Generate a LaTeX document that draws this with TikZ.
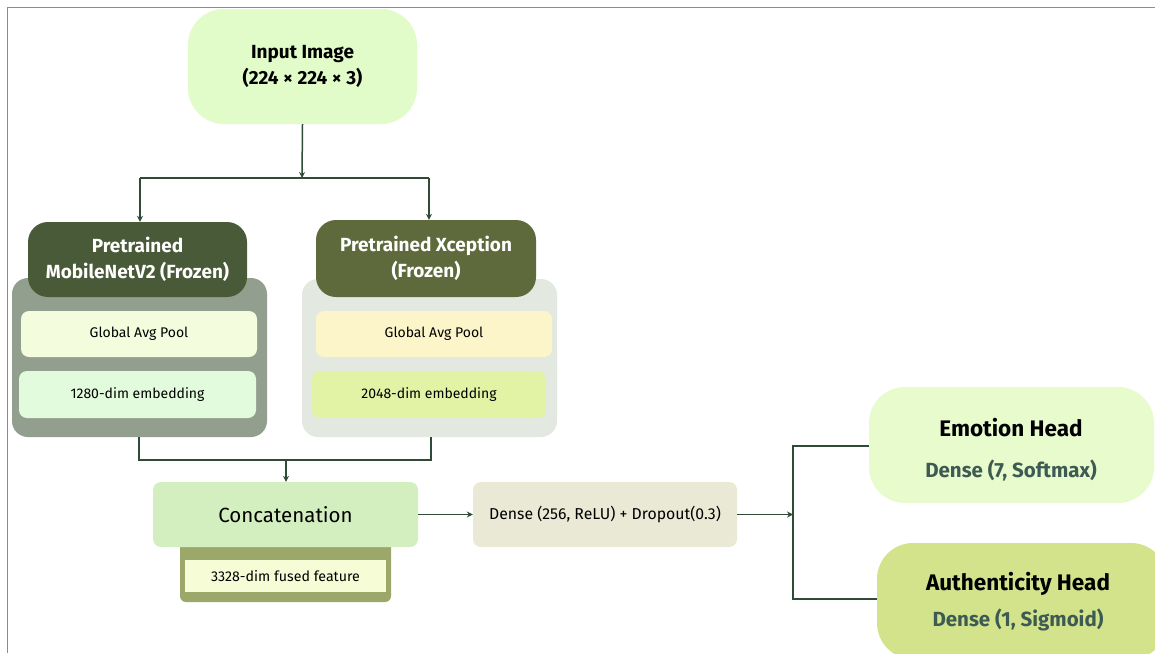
\documentclass[tikz,border=0pt]{standalone}
\usepackage{fontspec}
\setmainfont{Fira Sans}
\usetikzlibrary{arrows.meta}
\definecolor{inputfill}{HTML}{E1FBC9}
\definecolor{mobhead}{HTML}{485A37}
\definecolor{mobgroup}{HTML}{939F8E}
\definecolor{xcehead}{HTML}{5F6A3C}
\definecolor{xcegroup}{HTML}{E3E8E1}
\definecolor{poolA}{HTML}{F4FCDE}
\definecolor{embA}{HTML}{E2FBDC}
\definecolor{poolB}{HTML}{FDF5CA}
\definecolor{embB}{HTML}{E2F3A6}
\definecolor{concatfill}{HTML}{D3EFC0}
\definecolor{fusedbase}{HTML}{9BA86A}
\definecolor{fusedfill}{HTML}{F6FCD6}
\definecolor{densefill}{HTML}{EAE9D6}
\definecolor{emofill}{HTML}{E8FBCD}
\definecolor{authfill}{HTML}{D3E38B}
\definecolor{wire}{HTML}{2F4A36}
\definecolor{subtxt}{HTML}{3E5B53}
\definecolor{framegray}{HTML}{8C8C8C}
\tikzset{
  box/.style={draw=none, inner sep=0pt, align=center},
  wireline/.style={draw=wire, line width=1.5pt},
  arrowline/.style={wireline, -{Stealth[length=6pt,width=6pt]}},
  bigbold/.style={font=\fontsize{19}{26}\selectfont\bfseries},
  headbold/.style={font=\fontsize{22.5}{26}\selectfont\bfseries},
  headsub/.style={font=\fontsize{20.5}{24}\selectfont\bfseries, text=subtxt},
  midreg/.style={font=\fontsize{20.5}{24}\selectfont},
  small/.style={font=\fontsize{14}{18}\selectfont},
  densetext/.style={font=\fontsize{15.8}{18}\selectfont},
  tiny/.style={font=\fontsize{14.2}{16}\selectfont},
}
\begin{document}
\begin{tikzpicture}[x=1pt,y=-1pt]
\clip (0,0) rectangle (1155,653);
\fill[white] (0,0) rectangle (1155,653);
% outer frame lines
\draw[framegray, line width=1.5pt] (7.5,653) -- (7.5,7.5) -- (1155,7.5);

% input
\node[box, fill=inputfill, rounded corners=36pt, minimum width=229pt, minimum height=115pt, bigbold]
  (input) at (302.5,66.5) {Input Image\\(224 × 224 × 3)};

% MobileNetV2 branch
\node[box, fill=mobgroup, rounded corners=16pt, minimum width=255pt, minimum height=159pt]
  (mobgrp) at (139.5,357.5) {};
\node[box, fill=mobhead, rounded corners=20pt, minimum width=219pt, minimum height=75pt, text=white, bigbold]
  (mobhd) at (137.5,259.5) {Pretrained\\MobileNetV2 (Frozen)};
\node[box, fill=poolA, rounded corners=8pt, minimum width=236pt, minimum height=46pt, small]
  (mobpool) at (139,334) {Global Avg Pool};
\node[box, fill=embA, rounded corners=8pt, minimum width=237pt, minimum height=47pt, small]
  (mobemb) at (137.5,394.5) {1280-dim embedding};

% Xception branch
\node[box, fill=xcegroup, rounded corners=16pt, minimum width=255pt, minimum height=158pt]
  (xcegrp) at (429.5,358) {};
\node[box, fill=xcehead, rounded corners=20pt, minimum width=220pt, minimum height=77pt, text=white, bigbold]
  (xcehd) at (426,258.5) {Pretrained Xception\\(Frozen)};
\node[box, fill=poolB, rounded corners=8pt, minimum width=236pt, minimum height=46pt, small]
  (xcepool) at (434,334) {Global Avg Pool};
\node[box, fill=embB, rounded corners=8pt, minimum width=234pt, minimum height=47pt, small]
  (xceemb) at (429,394.5) {2048-dim embedding};

% concatenation
\node[box, fill=fusedbase, rounded corners=6pt, minimum width=211pt, minimum height=64pt]
  (fbase) at (285.5,570) {};
\node[box, fill=concatfill, rounded corners=8pt, minimum width=265pt, minimum height=65pt, midreg]
  (concat) at (285.5,514.5) {Concatenation};
\node[box, fill=fusedfill, minimum width=201pt, minimum height=32pt, tiny]
  (fused) at (285.5,576) {3328-dim fused feature};

% dense
\node[box, fill=densefill, rounded corners=8pt, minimum width=264pt, minimum height=65pt, densetext]
  (dense) at (605,514.5) {Dense (256, ReLU) + Dropout(0.3)};

% heads
\node[box, fill=emofill, rounded corners=36pt, minimum width=285pt, minimum height=116pt]
  (emo) at (1011.5,445) {};
\node[headbold, anchor=base] (emot) at (1011,436) {Emotion Head};
\node[headsub, anchor=base] (emos) at (1011,477) {Dense (7, Softmax)};
\node[box, fill=authfill, rounded corners=36pt, minimum width=290pt, minimum height=116pt]
  (auth) at (1022,601) {};
\node[headbold, anchor=base] (autht) at (1018,590) {Authenticity Head};
\node[headsub, anchor=base] (auths) at (1018,626) {Dense (1, Sigmoid)};

% connectors
\coordinate (split) at (302,178);
\draw[arrowline] (input.south) -- (split);
\draw[wireline] (140,178) -- (429,178);
\draw[arrowline] (140,178) -- (mobhd.north -| 140,0);
\draw[arrowline] (429,178) -- (xcehd.north -| 429,0);
\coordinate (join) at (286,460);
\draw[wireline] (mobgrp.south -| 139,0) -- (139,460) -- (431,460) -- (xcegrp.south -| 431,0);
\draw[arrowline] (join) -- (concat.north -| join);
\draw[arrowline] (concat.east) -- (dense.west);
\coordinate (fork) at (793,514.5);
\draw[arrowline] (dense.east) -- (fork);
\draw[wireline] (emo.west |- 0,446) -- (793,446) -- (793,599) -- (auth.west |- 0,599);
\end{tikzpicture}
\end{document}
